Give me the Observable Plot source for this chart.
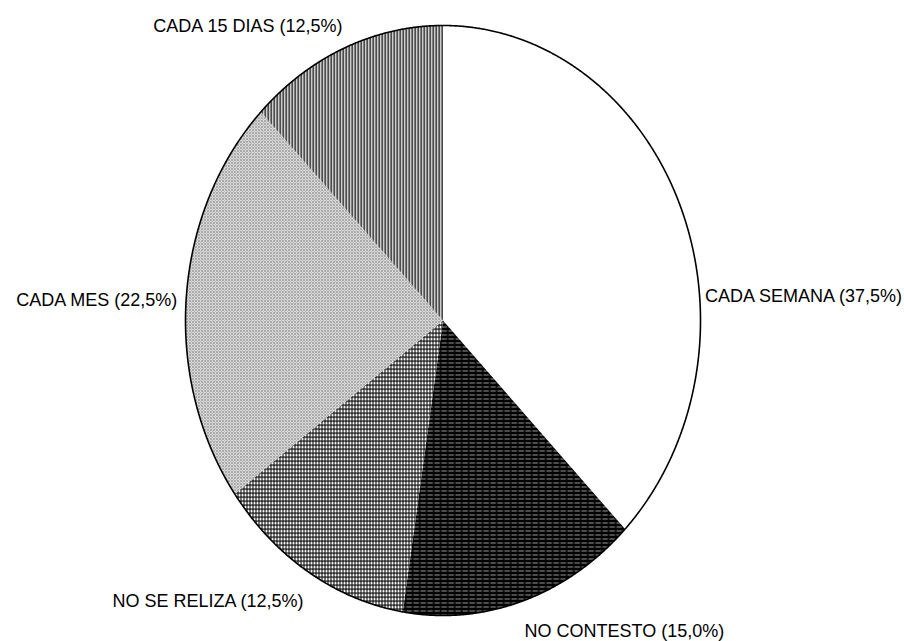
<!DOCTYPE html>
<html>
<head>
<meta charset="utf-8">
<script src="https://cdn.jsdelivr.net/npm/d3@7"></script>
<script src="https://cdn.jsdelivr.net/npm/@observablehq/plot@0.6"></script>
<style>
  html, body { margin: 0; padding: 0; background: #fff; }
</style>
</head>
<body>
<div id="chart"></div>
<script>
// ---- data ----
const categories = ["CADA SEMANA", "NO CONTESTO", "NO SE RELIZA", "CADA MES", "CADA 15 DIAS"];
const values = [37.5, 15.0, 12.5, 22.5, 12.5];
const valueLabels = ["37,5%", "15,0%", "12,5%", "22,5%", "12,5%"];

// ---- styles / layout (not data) ----
const fills = ["#ffffff", "url(#p-dark)", "url(#p-grid)", "url(#p-dots)", "url(#p-vstripes)"];
const labelLayout = [
  {anchor: "start", dx: 24, dy: 89},
  {anchor: "start", dx: 2, dy: 30},
  {anchor: "end", dx: -5, dy: 29},
  {anchor: "end", dx: -9, dy: 3},
  {anchor: "end", dx: -2, dy: -22}
];

// ---- geometry from values (d3.pie: 0 = 12 o'clock, clockwise) ----
const arcs = d3.pie().sort(null).value(d => d)(values);
const step = Math.PI / 720;
const slices = arcs.map((a, i) => {
  const pts = [{x: 0, y: 0}];
  const n = Math.max(2, Math.ceil((a.endAngle - a.startAngle) / step));
  for (let k = 0; k <= n; k++) {
    const t = a.startAngle + (a.endAngle - a.startAngle) * k / n;
    pts.push({x: Math.sin(t), y: Math.cos(t)});
  }
  return pts;
});
const outline = d3.range(0, 1441).map(k => {
  const t = 2 * Math.PI * k / 1440;
  return {x: Math.sin(t), y: Math.cos(t)};
});
const labels = arcs.map((a, i) => {
  const m = (a.startAngle + a.endAngle) / 2;
  return {x: Math.sin(m), y: Math.cos(m), text: `${categories[i]} (${valueLabels[i]})`};
});

const plot = Plot.plot({
  width: 904,
  height: 641,
  marginLeft: 185,
  marginRight: 204,
  marginTop: 25,
  marginBottom: 26,
  x: {domain: [-1, 1], axis: null},
  y: {domain: [-1, 1], axis: null},
  style: {fontFamily: "'Liberation Sans', Arial, sans-serif", background: "#fff", color: "#000"},
  marks: [
    ...slices.map((pts, i) => Plot.line(pts, {
      x: "x", y: "y", fill: fills[i], stroke: "none", curve: "linear-closed"
    })),
    Plot.line(outline, {x: "x", y: "y", stroke: "#000", strokeWidth: 1.6, curve: "linear-closed"}),
    ...labels.map((l, i) => Plot.text([l], {
      x: "x", y: "y", text: "text",
      textAnchor: labelLayout[i].anchor, dx: labelLayout[i].dx, dy: labelLayout[i].dy,
      fontSize: 18, fill: "#000"
    }))
  ]
});

const defs = `
<pattern id="p-vstripes" patternUnits="userSpaceOnUse" width="3" height="3">
  <rect width="3" height="3" fill="#fff"/>
  <rect x="0" y="0" width="1.4" height="3" fill="#000"/>
</pattern>
<pattern id="p-dots" patternUnits="userSpaceOnUse" width="3" height="3">
  <rect width="3" height="3" fill="#fff"/>
  <rect x="0" y="0" width="1.05" height="1.05" fill="#000"/>
  <rect x="1.5" y="1.5" width="1.05" height="1.05" fill="#000"/>
</pattern>
<pattern id="p-grid" patternUnits="userSpaceOnUse" width="3" height="4">
  <rect width="3" height="4" fill="#fff"/>
  <rect x="0" y="0" width="1" height="4" fill="#000"/>
  <rect x="0" y="0" width="3" height="1.2" fill="#000"/>
</pattern>
<pattern id="p-dark" patternUnits="userSpaceOnUse" width="7" height="4">
  <rect width="7" height="4" fill="#000"/>
  <rect x="0" y="2" width="5.5" height="0.6" fill="#fff"/>
</pattern>`;
const ns = "http://www.w3.org/2000/svg";
const d = document.createElementNS(ns, "defs");
d.innerHTML = defs;
plot.insertBefore(d, plot.firstChild);

document.getElementById("chart").appendChild(plot);
</script>
</body>
</html>
